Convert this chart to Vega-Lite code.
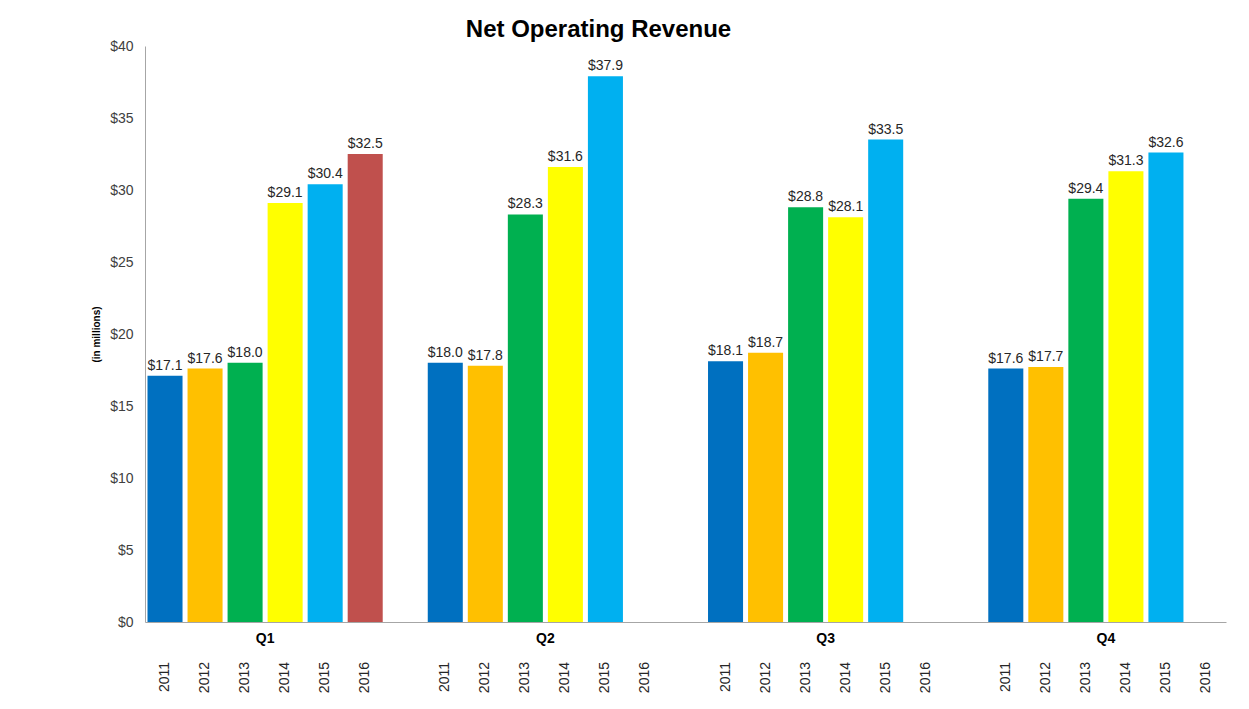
{
  "$schema": "https://vega.github.io/schema/vega-lite/v6.json",
  "autosize": {"type": "none"},
  "width": 1081,
  "height": 576,
  "padding": {"left": 145, "top": 46, "right": 23, "bottom": 87},
  "background": "white",
  "config": {
    "font": "Liberation Sans",
    "view": {"stroke": null},
    "axis": {"grid": false, "ticks": false, "domainColor": "#A6A6A6", "labelFont": "Liberation Sans", "titleFont": "Liberation Sans"}
  },
  "title": {
    "text": "Net Operating Revenue",
    "fontSize": 24,
    "fontWeight": "bold",
    "color": "#000000",
    "anchor": "middle",
    "dx": -87,
    "offset": -3
  },
  "data": {
    "values": [
      {"quarter": "Q1", "year": "2011", "value": 17.1},
      {"quarter": "Q1", "year": "2012", "value": 17.6},
      {"quarter": "Q1", "year": "2013", "value": 18.0},
      {"quarter": "Q1", "year": "2014", "value": 29.1},
      {"quarter": "Q1", "year": "2015", "value": 30.4},
      {"quarter": "Q1", "year": "2016", "value": 32.5},
      {"quarter": "Q2", "year": "2011", "value": 18.0},
      {"quarter": "Q2", "year": "2012", "value": 17.8},
      {"quarter": "Q2", "year": "2013", "value": 28.3},
      {"quarter": "Q2", "year": "2014", "value": 31.6},
      {"quarter": "Q2", "year": "2015", "value": 37.9},
      {"quarter": "Q2", "year": "2016", "value": null},
      {"quarter": "Q3", "year": "2011", "value": 18.1},
      {"quarter": "Q3", "year": "2012", "value": 18.7},
      {"quarter": "Q3", "year": "2013", "value": 28.8},
      {"quarter": "Q3", "year": "2014", "value": 28.1},
      {"quarter": "Q3", "year": "2015", "value": 33.5},
      {"quarter": "Q3", "year": "2016", "value": null},
      {"quarter": "Q4", "year": "2011", "value": 17.6},
      {"quarter": "Q4", "year": "2012", "value": 17.7},
      {"quarter": "Q4", "year": "2013", "value": 29.4},
      {"quarter": "Q4", "year": "2014", "value": 31.3},
      {"quarter": "Q4", "year": "2015", "value": 32.6},
      {"quarter": "Q4", "year": "2016", "value": null}
    ]
  },
  "encoding": {
    "x": {
      "field": "quarter",
      "type": "nominal",
      "scale": {"paddingInner": 0.142857, "paddingOuter": 0},
      "axis": {"title": null, "labelAngle": 0, "labelFontSize": 14, "labelFontWeight": "bold", "labelColor": "#000000", "labelPadding": 9}
    },
    "xOffset": {
      "field": "year",
      "type": "nominal",
      "scale": {"paddingInner": 0.125, "paddingOuter": 0.0625}
    }
  },
  "layer": [
    {
      "mark": {"type": "bar"},
      "encoding": {
        "y": {
          "field": "value",
          "type": "quantitative",
          "scale": {"domain": [0, 40], "nice": false},
          "axis": {
            "title": "(in millions)",
            "titleFontSize": 10,
            "titleFontWeight": "bold",
            "titleColor": "#000000",
            "titlePadding": 8,
            "values": [0, 5, 10, 15, 20, 25, 30, 35, 40],
            "format": "$.0f",
            "labelFontSize": 14,
            "labelColor": "#404040",
            "labelPadding": 12
          }
        },
        "color": {
          "field": "year",
          "type": "nominal",
          "scale": {
            "domain": ["2011", "2012", "2013", "2014", "2015", "2016"],
            "range": ["#0070C0", "#FFC000", "#00B050", "#FFFF00", "#00B0F0", "#C0504D"]
          },
          "legend": null
        }
      }
    },
    {
      "transform": [{"filter": "datum.value != null"}],
      "mark": {"type": "text", "baseline": "bottom", "dy": -3, "fontSize": 14, "color": "#262626"},
      "encoding": {
        "y": {"field": "value", "type": "quantitative"},
        "text": {"field": "value", "type": "quantitative", "format": "$.1f"}
      }
    },
    {
      "mark": {"type": "text", "angle": 270, "align": "right", "baseline": "middle", "dx": -40, "fontSize": 14, "color": "#262626"},
      "encoding": {
        "y": {"datum": 0},
        "text": {"field": "year", "type": "nominal"}
      }
    }
  ]
}
